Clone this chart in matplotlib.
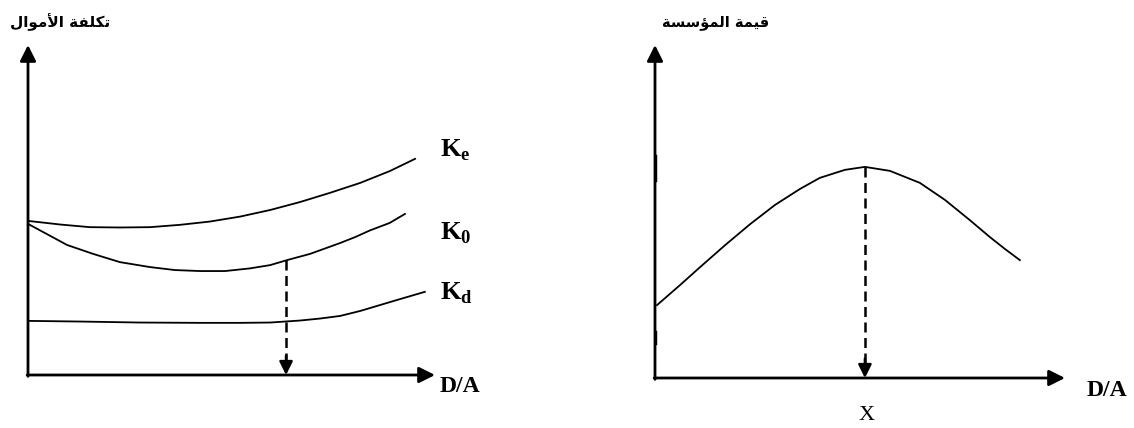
import numpy as np
import matplotlib
matplotlib.use("Agg")
import matplotlib.pyplot as plt

# -----------------------------
# Dados
# -----------------------------
# painel esquerdo: custo do capital em função de D/A
ke_x = [0.00, 0.79, 1.52, 2.26, 3.00, 3.73, 4.47, 5.21, 5.95, 6.68, 7.42, 8.16, 8.89, 9.51]
ke_y = [4.67, 4.56, 4.48, 4.47, 4.48, 4.55, 4.65, 4.80, 5.00, 5.24, 5.52, 5.82, 6.18, 6.55]

k0_x = [0.00, 0.42, 0.96, 1.60, 2.26, 3.00, 3.61, 4.23, 4.84, 5.45, 5.95, 6.36, 6.93, 7.67, 8.04, 8.40, 8.89, 9.26]
k0_y = [4.58, 4.30, 3.94, 3.67, 3.42, 3.27, 3.18, 3.15, 3.15, 3.23, 3.33, 3.48, 3.67, 4.00, 4.18, 4.38, 4.61, 4.88]

kd_x = [0.00, 1.28, 2.75, 4.23, 5.21, 5.95, 6.68, 7.17, 7.67, 8.16, 8.65, 9.14, 9.75]
kd_y = [1.64, 1.62, 1.59, 1.58, 1.58, 1.59, 1.65, 1.71, 1.79, 1.94, 2.12, 2.30, 2.52]

opt_left_x = 6.34
opt_left_y = 3.48

# painel direito: valor da empresa em função de D/A
val_x = [0.05, 0.61, 1.10, 1.71, 2.32, 2.93, 3.54, 4.02, 4.63, 5.12, 5.73, 6.46, 7.07, 7.68, 8.17, 8.54, 8.90]
val_y = [2.19, 2.79, 3.33, 3.99, 4.62, 5.20, 5.68, 6.01, 6.25, 6.34, 6.22, 5.86, 5.35, 4.74, 4.23, 3.87, 3.54]

opt_right_x = 5.12
opt_right_y = 6.34

# textos (árabe em formas de apresentação, ordem visual)
title_left = "\ufedd\ufe8d\ufeee\ufee3\ufef7\ufe8d \ufe94\ufed4\ufee0\ufedc\ufe97"   # تكلفة الأموال
title_right = "\ufe94\ufeb4\ufeb3\ufe86\ufee4\ufedf\ufe8d \ufe94\ufee4\ufef4\ufed7"  # قيمة المؤسسة
x_label = "D/A"
opt_label = "X"
curve_labels = [r"$\mathbf{K}_{\mathbf{e}}$", r"$\mathbf{K}_{\mathbf{0}}$", r"$\mathbf{K}_{\mathbf{d}}$"]

plt.rcParams["mathtext.fontset"] = "custom"
plt.rcParams["mathtext.bf"] = "Liberation Serif:bold"
plt.rcParams["mathtext.rm"] = "Liberation Serif"

W, H = 1134, 428
fig = plt.figure(figsize=(W / 100, H / 100), dpi=100)


def make_axes(x0, y_bottom, x1, y_top):
    """Cria eixos a partir de coordenadas em pixels (origem no topo)."""
    ax = fig.add_axes([x0 / W, (H - y_bottom) / H, (x1 - x0) / W, (y_bottom - y_top) / H])
    ax.set_xlim(0, 10)
    ax.set_ylim(0, 10)
    for s in ax.spines.values():
        s.set_visible(False)
    ax.set_xticks([])
    ax.set_yticks([])
    ax.patch.set_alpha(0)
    # eixos com setas
    arrow = dict(arrowstyle="-|>", lw=2.0, color="black", mutation_scale=24,
                 shrinkA=0, shrinkB=0)
    ax.annotate("", xy=(0, 1), xytext=(0, -0.004), xycoords="axes fraction",
                arrowprops=arrow, annotation_clip=False)
    ax.annotate("", xy=(1, 0), xytext=(-0.002, 0), xycoords="axes fraction",
                arrowprops=arrow, annotation_clip=False)
    return ax


def dashed_arrow(ax, x, y):
    ax.plot([x, x], [y, 0.35], color="black", lw=1.8, dashes=(4, 2.2),
            solid_capstyle="butt", clip_on=False)
    ax.annotate("", xy=(x, 0), xytext=(0, 14), textcoords="offset points",
                arrowprops=dict(arrowstyle="-|>", lw=1.8, color="black",
                                mutation_scale=20, shrinkA=0, shrinkB=0))


# -----------------------------
# Painel esquerdo
# -----------------------------
axl = make_axes(28, 375, 435, 45)
axl.plot(ke_x, ke_y, color="black", lw=1.3, clip_on=False)
axl.plot(k0_x, k0_y, color="black", lw=1.3, clip_on=False)
axl.plot(kd_x, kd_y, color="black", lw=1.3, clip_on=False)
dashed_arrow(axl, opt_left_x, opt_left_y)

fig.text(10 / W, 1 - 22 / H, title_left, family=["DejaVu Sans"], fontweight="bold",
         fontsize=11, ha="left", va="center")
for lab, ypix in zip(curve_labels, [150, 233, 293]):
    fig.text(440 / W, 1 - ypix / H, lab, fontsize=19, ha="left", va="center")
fig.text(440 / W, 1 - 386 / H, x_label, family="Liberation Serif", fontweight="bold",
         fontsize=17, ha="left", va="center")

# -----------------------------
# Painel direito
# -----------------------------
axr = make_axes(655, 378, 1065, 45)
axr.plot(val_x, val_y, color="black", lw=1.3, clip_on=False)
dashed_arrow(axr, opt_right_x, opt_right_y)
# pequenos trechos mais grossos no eixo vertical
axr.axvline(0, ymin=(378 - 180) / 333, ymax=(378 - 157) / 333, color="black", lw=3.2)
axr.axvline(0, ymin=(378 - 343) / 333, ymax=(378 - 333) / 333, color="black", lw=3.2)

fig.text(662 / W, 1 - 22 / H, title_right, family=["DejaVu Sans"], fontweight="bold",
         fontsize=10.5, ha="left", va="center")
fig.text(1087 / W, 1 - 390 / H, x_label, family="Liberation Serif", fontweight="bold",
         fontsize=17, ha="left", va="center")
fig.text(867 / W, 1 - 416 / H, opt_label, family="Liberation Serif",
         fontsize=16, ha="center", va="center")

fig.savefig("out.png", dpi=100, facecolor="white")
